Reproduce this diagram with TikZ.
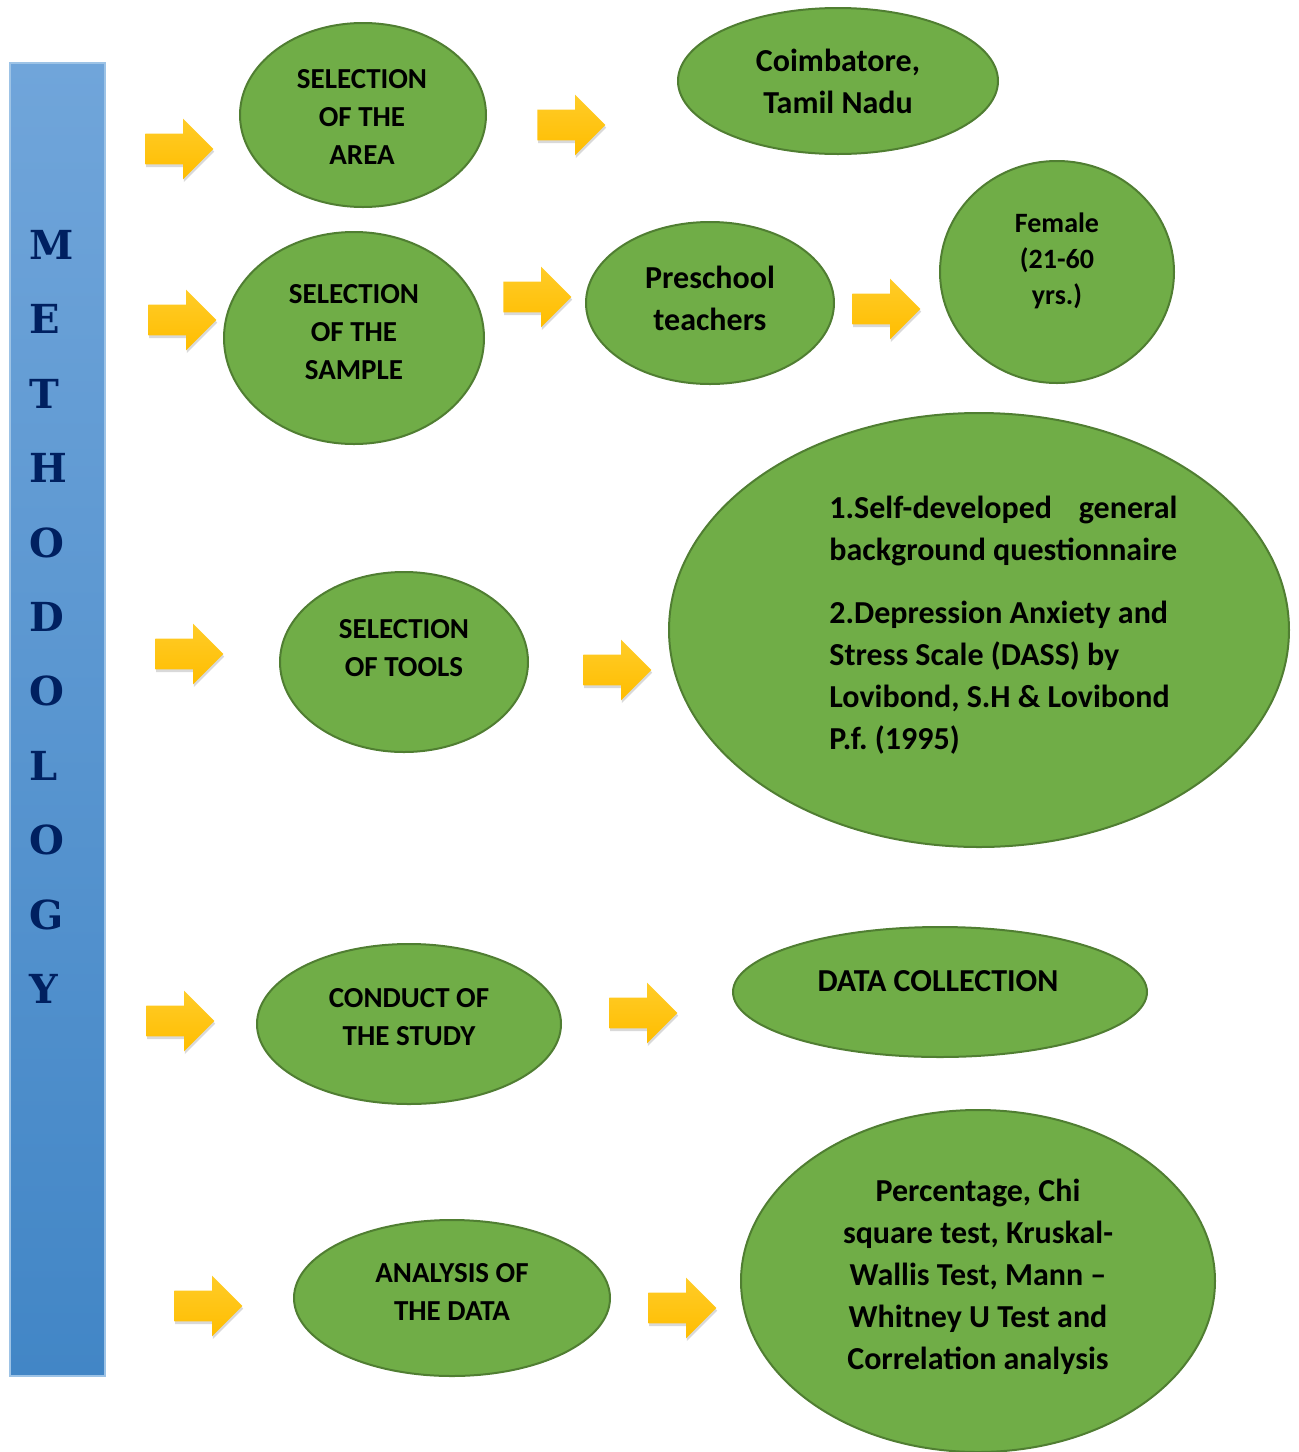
\documentclass[tikz,border=0pt]{standalone}
\usepackage{fontspec}
\setmainfont{Carlito}
\newfontfamily\letterfont{DejaVu Serif}
\usetikzlibrary{shapes.geometric,shapes.arrows,shadows}
\frenchspacing

\definecolor{leaf}{RGB}{112,173,71}
\definecolor{leafedge}{RGB}{80,126,50}
\definecolor{barTop}{RGB}{112,165,218}
\definecolor{barBot}{RGB}{66,134,198}
\definecolor{barEdge}{RGB}{157,195,230}
\definecolor{navy}{RGB}{0,32,96}
\definecolor{goldA}{RGB}{255,204,40}
\definecolor{goldB}{RGB}{255,189,0}

\tikzset{
  blob/.style={ellipse,draw=leafedge,line width=1pt,fill=leaf,inner sep=0pt},
  goarrow/.style={single arrow,single arrow head extend=7.5pt,single arrow tip angle=90,
    inner xsep=0pt,inner ysep=7.5pt,minimum height=34pt,minimum width=30pt,anchor=west,
    top color=goldA,bottom color=goldB,
    drop shadow={opacity=0.3,shadow xshift=0.4pt,shadow yshift=-1.3pt}},
  caps/.style={font=\fontsize{14.5}{19}\selectfont\bfseries,align=center,inner sep=0pt},
  body/.style={font=\fontsize{16}{21}\selectfont\bfseries,align=center,inner sep=0pt},
}

\begin{document}
\begin{tikzpicture}[x=0.5pt,y=-0.5pt]
\useasboundingbox (0,0) rectangle (1298,1452);

% side bar
\shade[top color=barTop,bottom color=barBot,draw=barEdge,line width=0.6pt] (10,63) rectangle (105,1376);
\foreach \ch [count=\i from 0] in {M,E,T,H,O,D,O,L,O,G,Y}
  \node[anchor=west,inner sep=0pt,text=navy,font=\letterfont\bfseries\fontsize{20}{20}\selectfont] (L\i) at (29,{245+74.4*\i}) {\ch};

% ellipses
\node[blob,minimum width=123pt,minimum height=92pt] (area) at (363,115) {};
\node[blob,minimum width=160pt,minimum height=73pt] (place) at (838,81) {};
\node[blob,minimum width=130pt,minimum height=106pt] (sample) at (354,338) {};
\node[blob,minimum width=124pt,minimum height=81pt] (teach) at (710,303) {};
\node[blob,minimum width=117pt,minimum height=111pt] (female) at (1057,272) {};
\node[blob,minimum width=124pt,minimum height=90pt] (tools) at (404,662) {};
\node[blob,minimum width=310pt,minimum height=217pt] (toollist) at (979,630) {};
\node[blob,minimum width=152pt,minimum height=80pt] (conduct) at (409,1024) {};
\node[blob,minimum width=207pt,minimum height=65pt] (collect) at (940,992) {};
\node[blob,minimum width=158pt,minimum height=78pt] (analysis) at (452,1298) {};
\node[blob,minimum width=237pt,minimum height=171pt] (stats) at (978,1281) {};

% texts
\node[caps] (area-t) at (362,117) {SELECTION\\OF THE\\AREA};
\node[body] (place-t) at (838,81) {Coimbatore,\\Tamil Nadu};
\node[caps] (sample-t) at (354,332) {SELECTION\\OF THE\\SAMPLE};
\node[body] (teach-t) at (710,298) {Preschool\\teachers};
\node[caps,font=\fontsize{14}{18}\selectfont\bfseries] (female-t) at (1057,261) {Female\\(21-60\\yrs.)};
\node[caps] (tools-t) at (404,648) {SELECTION\\OF TOOLS};
\node[body,align=left,anchor=west] (toollist-t) at (829,625)
  {\makebox[174pt][s]{1.Self-developed general}\\background questionnaire\\[10.5pt]
   2.Depression Anxiety and\\Stress Scale (DASS) by\\Lovibond, S.H \& Lovibond\\P.f. (1995)};
\node[caps] (conduct-t) at (409,1017) {CONDUCT OF\\THE STUDY};
\node[body] (collect-t) at (938,981) {DATA COLLECTION};
\node[caps] (analysis-t) at (452,1292) {ANALYSIS OF\\THE DATA};
\node[body] (stats-t) at (978,1277) {Percentage, Chi\\square test, Kruskal-\\Wallis Test, Mann --\\Whitney U Test and\\Correlation analysis};

% arrows
\node[goarrow] (a1) at (145,149) {};
\node[goarrow] (a2) at (537,125) {};
\node[goarrow] (a3) at (148,320) {};
\node[goarrow] (a4) at (503,297) {};
\node[goarrow] (a5) at (852,309) {};
\node[goarrow] (a6) at (155,654) {};
\node[goarrow] (a7) at (583,670) {};
\node[goarrow] (a8) at (146,1021) {};
\node[goarrow] (a9) at (609,1013) {};
\node[goarrow] (a10) at (174,1306) {};
\node[goarrow] (a11) at (648,1308) {};
\end{tikzpicture}
\end{document}
